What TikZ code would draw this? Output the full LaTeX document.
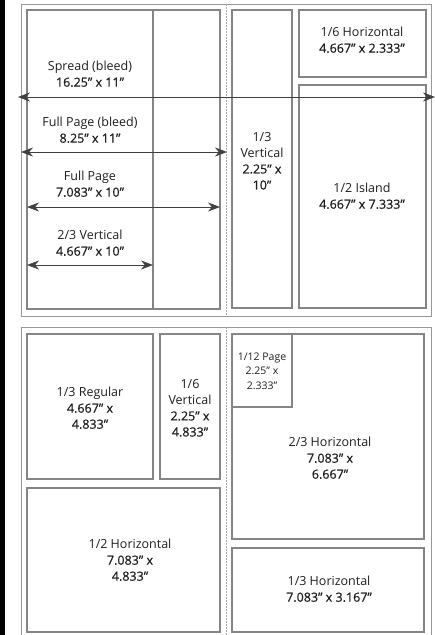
\documentclass[tikz,border=0pt]{standalone}
\usepackage{fontspec}
\setmainfont{Open Sans}
\newfontfamily\dimfont{Open Sans}[FakeBold=0.6]
\newcommand\dm[1]{{\dimfont #1}}
\usetikzlibrary{arrows.meta}
\definecolor{boxgray}{HTML}{858585}
\definecolor{txt}{HTML}{1E1E1E}
\tikzset{
  adbox/.style={draw=boxgray, line width=1.1pt},
  frame/.style={draw=boxgray!85, line width=0.8pt},
  spine/.style={draw=boxgray!70, line width=0.8pt, dash pattern=on 2pt off 1pt},
  dim/.style={draw=txt!85, line width=0.6pt, {Stealth[length=12pt,width=9pt]}-{Stealth[length=12pt,width=9pt]}},
  lbl/.style={text=txt, align=center, font=\fontsize{12.5}{16}\selectfont, inner sep=0pt},
}
\begin{document}
\begin{tikzpicture}[x=1pt,y=-1pt]
\useasboundingbox (0,0) rectangle (435,635);
\fill[black] (0,0) rectangle (4.5,635);
% top panel
\draw[frame] (21,4) rectangle (431,316);
\draw[adbox] (27,10) rectangle (220,309);
\draw[adbox] (153,10) -- (153,309);
\draw[spine] (226.5,4) -- (226.5,316);
\draw[adbox] (232,10) rectangle (292,308);
\draw[adbox] (299,10) rectangle (426,77);
\draw[adbox] (299,85) rectangle (426,308);
% dimension arrows
\coordinate (sL) at (18,97);  \coordinate (sR) at (435,97);
\coordinate (bL) at (21,152); \coordinate (bR) at (227,152);
\coordinate (fL) at (27,207); \coordinate (fR) at (220,207);
\coordinate (vL) at (27,265); \coordinate (vR) at (153,265);
\draw[dim] (sL) -- (sR);
\draw[dim] (bL) -- (bR);
\draw[dim] (fL) -- (fR);
\draw[dim] (vL) -- (vR);
\node[lbl] (spread) at (90,74) {Spread (bleed)\\\dm{16.25” x 11”}};
\node[lbl] (fpb) at (90,130) {Full Page (bleed)\\\dm{8.25” x 11”}};
\node[lbl] (fp) at (90,184) {Full Page\\\dm{7.083” x 10”}};
\node[lbl] (tv) at (90,243) {2/3 Vertical\\\dm{4.667” x 10”}};
\node[lbl] (thv) at (262,161) {1/3\\Vertical\\\dm{2.25” x}\\\dm{10”}};
\node[lbl] (sh) at (362,40) {1/6 Horizontal\\\dm{4.667” x 2.333”}};
\node[lbl] (hi) at (362,196) {1/2 Island\\\dm{4.667” x 7.333”}};
% bottom panel
\draw[frame] (21,327) rectangle (431,645);
\draw[spine] (226.5,327) -- (226.5,635);
\draw[adbox] (27,334) rectangle (153,479);
\draw[adbox] (160,334) rectangle (220,479);
\draw[adbox] (27,488) rectangle (220,632);
\draw[adbox] (232,334) rectangle (424,539);
\draw[adbox] (232,334) rectangle (292,407);
\draw[adbox] (232,548) rectangle (424,632);
\node[lbl] (tr) at (90,408) {1/3 Regular\\\dm{4.667” x}\\\dm{4.833”}};
\node[lbl] (sv) at (190,408) {1/6\\Vertical\\\dm{2.25” x}\\\dm{4.833”}};
\node[lbl] (hh) at (130,560) {1/2 Horizontal\\\dm{7.083” x}\\\dm{4.833”}};
\node[lbl] (th) at (330,458) {2/3 Horizontal\\\dm{7.083” x}\\\dm{6.667”}};
\node[lbl, font=\fontsize{10.5}{14.5}\selectfont] (tw) at (262,371) {1/12 Page\\2.25” x\\2.333”};
\node[lbl] (thh) at (329,589) {1/3 Horizontal\\\dm{7.083” x 3.167”}};
\end{tikzpicture}
\end{document}
